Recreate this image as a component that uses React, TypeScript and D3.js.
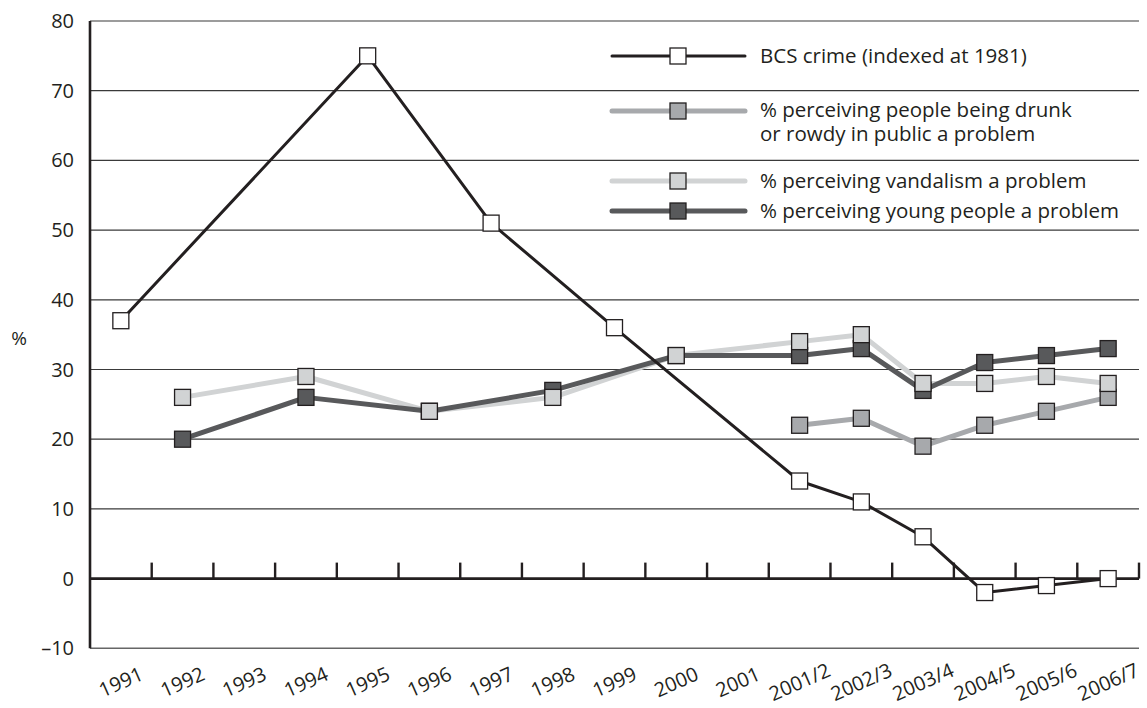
import React from "react";
import * as d3 from "d3";

const categories = ["1991","1992","1993","1994","1995","1996","1997","1998","1999","2000","2001","2001/2","2002/3","2003/4","2004/5","2005/6","2006/7"];
const bcsCrime: (number | null)[] = [37,null,null,null,75,null,51,null,36,null,null,14,11,6,-2,-1,0];
const drunkRowdy: (number | null)[] = [null,null,null,null,null,null,null,null,null,null,null,22,23,19,22,24,26];
const vandalism: (number | null)[] = [null,26,null,29,null,24,null,26,null,32,null,34,35,28,28,29,28];
const youngPeople: (number | null)[] = [null,20,null,26,null,24,null,27,null,32,null,32,33,27,31,32,33];
const yTicks = [-10,0,10,20,30,40,50,60,70,80];

const W = 1147, H = 708;
const FONT = "'Open Sans', 'DejaVu Sans', sans-serif";
const INK = "#231f20";

const series = [
  { key: "drunk", name: ["% perceiving people being drunk", "or rowdy in public a problem"], values: drunkRowdy, color: "#a7a9ac", fill: "#a7a9ac", width: 5, legendY: 111 },
  { key: "vandal", name: ["% perceiving vandalism a problem"], values: vandalism, color: "#d1d3d4", fill: "#d1d3d4", width: 5, legendY: 181 },
  { key: "young", name: ["% perceiving young people a problem"], values: youngPeople, color: "#58595b", fill: "#58595b", width: 5, legendY: 211 },
  { key: "bcs", name: ["BCS crime (indexed at 1981)"], values: bcsCrime, color: INK, fill: "#ffffff", width: 3, legendY: 56 },
];

export default function App() {
  const x = d3.scaleBand<string>().domain(categories).range([90, 1139]).padding(0);
  const y = d3.scaleLinear().domain([-10, 80]).range([648.3, 21]);
  const cx = (c: string) => (x(c) as number) + x.bandwidth() / 2;
  const ms = 16;

  const pts = (vals: (number | null)[]) =>
    categories.map((c, i) => ({ c, v: vals[i] })).filter((d) => d.v !== null) as { c: string; v: number }[];
  const line = d3.line<{ c: string; v: number }>().x((d) => cx(d.c)).y((d) => y(d.v));

  const lineOrder = ["drunk", "vandal", "young"];
  const markerOrder = ["drunk", "young", "vandal"];
  const get = (k: string) => series.find((s) => s.key === k)!;
  const bcs = get("bcs");

  const marker = (s: any, d: { c: string; v: number }, key: string) => (
    <rect key={key} x={cx(d.c) - ms / 2} y={y(d.v) - ms / 2} width={ms} height={ms}
      fill={s.fill} stroke={INK} strokeWidth={1.3} />
  );

  const boundaries = categories.map((c) => (x(c) as number) + x.bandwidth());

  return (
    <svg width={W} height={H} style={{ position: "absolute", left: 0, top: 0, background: "#fff" }} fontFamily={FONT}>
      {/* gridlines */}
      {yTicks.filter((t) => t > 0).map((t) => (
        <line key={t} x1={90} x2={1139} y1={y(t)} y2={y(t)} stroke="#3a3a3a" strokeWidth={1.2} />
      ))}
      <line x1={90} x2={1139} y1={y(-10)} y2={y(-10)} stroke="#666" strokeWidth={1.6} />
      {/* y tick labels */}
      {yTicks.map((t) => (
        <text key={t} x={74} y={y(t)} dy="0.35em" textAnchor="end" fontSize={20} fill={INK}>
          {t < 0 ? "\u2013" + Math.abs(t) : t}
        </text>
      ))}
      <text x={19} y={338} dy="0.35em" textAnchor="middle" fontSize={19} fill={INK}>%</text>
      {/* x labels */}
      {categories.map((c) => (
        <text key={c} transform={`translate(${cx(c)},682) rotate(-24)`} textAnchor="middle" dy="0.35em" fontSize={20} fill={INK}>
          {c}
        </text>
      ))}
      {/* legend */}
      {series.map((s) => (
        <g key={s.key}>
          <line x1={612} x2={745} y1={s.legendY} y2={s.legendY} stroke={s.color} strokeWidth={s.width} strokeLinecap="round" />
          <rect x={678 - ms / 2} y={s.legendY - ms / 2} width={ms} height={ms} fill={s.fill} stroke={INK} strokeWidth={1.3} />
          <text x={760} y={s.legendY - (s.name.length > 1 ? 1 : 0)} fontSize={20.5} fill={INK}>
            {s.name.map((n, i) => (
              <tspan key={i} x={760} dy={i === 0 ? "0.35em" : 24}>{n}</tspan>
            ))}
          </text>
        </g>
      ))}
      {/* series lines */}
      {lineOrder.map((k) => {
        const s = get(k);
        return <path key={k} d={line(pts(s.values)) || ""} fill="none" stroke={s.color} strokeWidth={s.width} strokeLinejoin="round" />;
      })}
      {markerOrder.map((k) => {
        const s = get(k);
        return <g key={k}>{pts(s.values).map((d) => marker(s, d, k + d.c))}</g>;
      })}
      {/* axes */}
      <line x1={90} x2={90} y1={y(80)} y2={y(-10)} stroke={INK} strokeWidth={2.6} />
      <line x1={90} x2={1139} y1={y(0)} y2={y(0)} stroke={INK} strokeWidth={2.8} />
      {boundaries.map((b, i) => (
        <line key={i} x1={b} x2={b} y1={y(0)} y2={y(0) - 16} stroke={INK} strokeWidth={2.4} />
      ))}
      {/* BCS */}
      <path d={line(pts(bcs.values)) || ""} fill="none" stroke={bcs.color} strokeWidth={bcs.width} strokeLinejoin="round" />
      {pts(bcs.values).map((d) => marker(bcs, d, "bcs" + d.c))}
    </svg>
  );
}
